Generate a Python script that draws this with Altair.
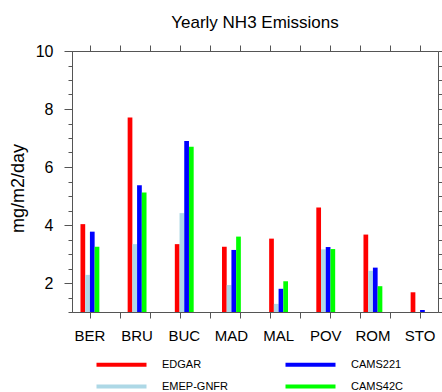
import altair as alt
import pandas as pd

cities = ["BER", "BRU", "BUC", "MAD", "MAL", "POV", "ROM", "STO"]
edgar = [4.03, 7.71, 3.34, 3.25, 3.53, 4.60, 3.67, 1.68]
emep = [2.28, 3.34, 4.41, 1.93, 1.28, 3.16, 2.42, 0.60]
cams221 = [3.77, 5.37, 6.90, 3.14, 1.80, 3.24, 2.53, 1.07]
cams42c = [3.25, 5.12, 6.70, 3.60, 2.06, 3.17, 1.89, 0.70]

series = ["EDGAR", "EMEP-GNFR", "CAMS221", "CAMS42C"]
colors = ["#ff0000", "#add8e6", "#0000ff", "#00ff00"]

frame_ticks = list(range(1, 13))
y_major = [2, 4, 6, 8, 10]
y_minor = [1 + 0.5 * i for i in range(19)]

rows = []
for name, vals in zip(series, [edgar, emep, cams221, cams42c]):
    for c, v in zip(cities, vals):
        rows.append({"city": c, "series": name, "value": v})
df = pd.DataFrame(rows)
tick_df = pd.DataFrame({"t": frame_ticks})

AX = "#555555"
FONT = "Liberation Sans"
yscale = alt.Scale(domain=[1, 10], nice=False, zero=False)
xq = alt.Scale(domain=[0.4, 12.6], nice=False, zero=False)

bars = alt.Chart(df).mark_bar(clip=True).encode(
    x=alt.X("city:N", sort=cities,
            scale=alt.Scale(paddingInner=0.6, paddingOuter=0.18),
            axis=alt.Axis(orient="bottom", title=None, ticks=False, domain=False,
                          labelAngle=0, labelFontSize=15, labelPadding=16,
                          labelColor="black", labelFont=FONT)),
    xOffset=alt.XOffset("series:N", sort=series,
                        scale=alt.Scale(paddingInner=0, paddingOuter=0)),
    y=alt.Y("value:Q", scale=yscale,
            axis=alt.Axis(orient="left", values=y_major, tickSize=8, grid=False,
                          domainColor=AX, tickColor=AX, labelFontSize=16,
                          labelColor="black", labelFont=FONT, labelPadding=11,
                          title="mg/m2/day", titleFontSize=18, titleFontWeight="normal",
                          titleFont=FONT, titleColor="black", titlePadding=8,
                          titleY=137)),
    y2=alt.datum(0),
    color=alt.Color("series:N",
                    scale=alt.Scale(domain=series, range=colors),
                    legend=alt.Legend(orient="none", legendX=44, legendY=308,
                                      columns=2, title=None,
                                      symbolType="M-6.25,-0.5H6.25V0.5H-6.25Z",
                                      symbolSize=64, symbolStrokeWidth=0,
                                      symbolOpacity=1,
                                      labelFontSize=11, labelFont=FONT,
                                      labelColor="black", labelOffset=35,
                                      columnPadding=57, rowPadding=10)),
)

bottom_ticks = alt.Chart(tick_df).mark_point(opacity=0).encode(
    x=alt.X("t:Q", scale=xq,
            axis=alt.Axis(orient="bottom", values=frame_ticks, labels=False,
                          tickSize=6, title=None, grid=False,
                          domainColor=AX, tickColor=AX)),
    y=alt.YDatum(1, scale=yscale,
                 axis=alt.Axis(orient="left", values=y_minor, labels=False,
                               tickSize=4, title=None, grid=False,
                               domainColor=AX, tickColor=AX)),
)

top_ticks = alt.Chart(tick_df).mark_point(opacity=0).encode(
    x=alt.X("t:Q", scale=xq,
            axis=alt.Axis(orient="top", values=frame_ticks, labels=False,
                          tickSize=6, title=None, grid=False,
                          domainColor=AX, tickColor=AX)),
    y=alt.YDatum(1, scale=yscale,
                 axis=alt.Axis(orient="right", values=y_minor, labels=False,
                               tickSize=4, title=None, grid=False,
                               domainColor=AX, tickColor=AX)),
)

chart = alt.layer(bars, bottom_ticks, top_ticks).resolve_scale(
    x="independent", y="independent"
).properties(
    width=366, height=261,
    padding={"left": 72, "top": 51, "right": 4, "bottom": 80},
    autosize=alt.AutoSizeParams(type="none"),
    title=alt.Title("Yearly NH3 Emissions", fontSize=17, font=FONT,
                    fontWeight="normal", color="black", offset=11, anchor="middle"),
).configure_view(stroke=None).configure(background="white")

chart.save("out.html", embed_options={"renderer": "svg", "actions": False})
